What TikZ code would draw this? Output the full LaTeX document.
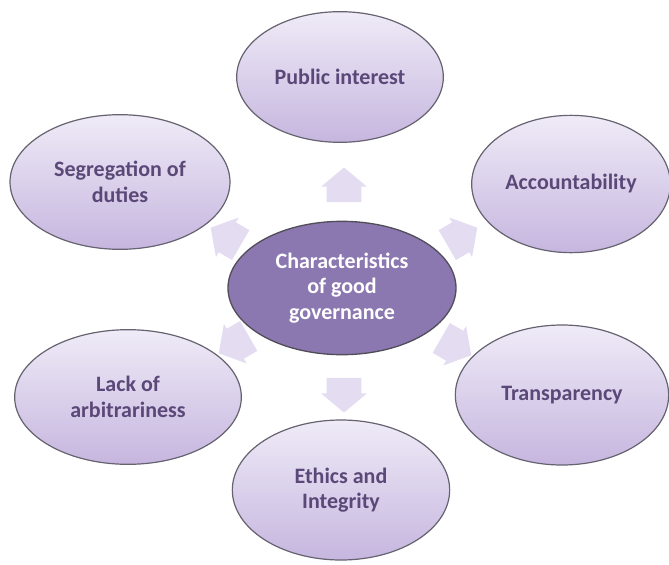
\documentclass[tikz,border=0pt]{standalone}
\usepackage{fontspec}
\setmainfont{Carlito}
\usepackage{xcolor}
\usetikzlibrary{shapes.geometric,shapes.arrows}
\definecolor{lavtop}{HTML}{EFEBF7}
\definecolor{lavbot}{HTML}{C6B6DF}
\definecolor{plumtext}{HTML}{5A4878}
\definecolor{hubfill}{HTML}{8C78B0}
\definecolor{rimgray}{HTML}{66626F}
\definecolor{arrowfill}{HTML}{E4DDF1}

\begin{document}
\begin{tikzpicture}[x=0.75pt, y=-0.75pt,
  every node/.style = {font=\fontsize{16.5}{19}\selectfont\bfseries, align=center},
  satellite/.style = {ellipse, draw=rimgray, line width=0.9pt, top color=lavtop,
                      bottom color=lavbot, text=plumtext, inner sep=0pt},
  hub/.style = {ellipse, draw=rimgray!80!black, line width=1pt, fill=hubfill,
                text=white, inner sep=0pt},
  outarrow/.style = {single arrow, fill=arrowfill, draw=none, inner xsep=0pt,
                     inner ysep=12.75pt, minimum height=26pt,
                     single arrow head extend=4.2pt, single arrow tip angle=100}]

\useasboundingbox (0,0) rectangle (669,565);

% arrows fanning out from the middle
\node (arN)  at (344,192) [outarrow, rotate=90]  {};
\node (arS)  at (344,388) [outarrow, rotate=270] {};
\node (arNW) at (232,240) [outarrow, rotate=150] {};
\node (arNE) at (456,240) [outarrow, rotate=30]  {};
\node (arSW) at (240,341) [outarrow, rotate=210] {};
\node (arSE) at (450,343) [outarrow, rotate=330] {};

% centre
\node (hub) at (342,288) [hub, minimum width=171pt, minimum height=100pt]
  {Characteristics\\of good\\governance};

% the six characteristics
\node (pub)  at (340,77)  [satellite, minimum width=155pt, minimum height=98pt]  {Public interest};
\node (acc)  at (571,184) [satellite, minimum width=149pt, minimum height=103pt] {Accountability};
\node (tra)  at (562,395) [satellite, minimum width=160pt, minimum height=105pt] {Transparency};
\node (eth)  at (341,490) [satellite, minimum width=163pt, minimum height=105pt] {Ethics and\\Integrity};
\node (lack) at (128,397) [satellite, minimum width=170pt, minimum height=101pt] {Lack of\\arbitrariness};
\node (seg)  at (120,182) [satellite, minimum width=165pt, minimum height=101pt] {Segregation of\\duties};

\end{tikzpicture}
\end{document}
